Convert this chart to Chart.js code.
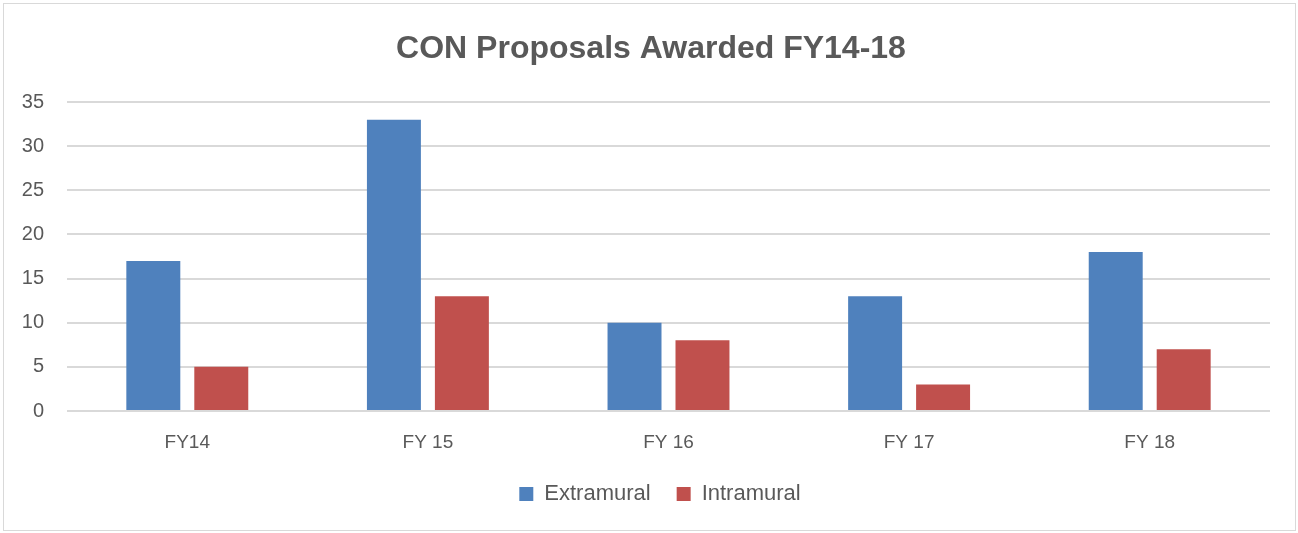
<!DOCTYPE html>
<html>
<head>
<meta charset="utf-8">
<script src="https://cdn.jsdelivr.net/npm/chart.js@4/dist/chart.umd.min.js"></script>
<style>
  html, body { margin: 0; padding: 0; background: #ffffff; }
  #wrap { position: relative; width: 1298px; height: 533px; }
  #frame { position: absolute; left: 3px; top: 3px; width: 1293px; height: 528px; border: 1px solid #d9d9d9; box-sizing: border-box; pointer-events: none; }
  canvas { position: absolute; left: 0; top: 0; }
</style>
</head>
<body>
<div id="wrap">
  <canvas id="c" width="1298" height="533"></canvas>
  <div id="frame"></div>
</div>
<script>
const categories = ["FY14", "FY 15", "FY 16", "FY 17", "FY 18"];
const extramural = [17, 33, 10, 13, 18];
const intramural = [5, 13, 8, 3, 7];
const seriesNames = ["Extramural", "Intramural"];
const yTicks = [0, 5, 10, 15, 20, 25, 30, 35];
const titleText = "CON Proposals Awarded FY14-18";

const textColor = "#595959";
const fontFamily = "'Liberation Sans', Arial, sans-serif";

// Center title and legend on the whole frame rather than the padded box
const recenter = {
  id: "recenter",
  afterLayout(chart) {
    const t = chart.titleBlock;
    if (t) { t.left = 4; t.right = 1298; t.width = t.right - t.left; }
    const l = chart.legend;
    if (l) { l.left = 0; l.right = 1320; l.width = l.right - l.left; }
  }
};

new Chart(document.getElementById("c"), {
  type: "bar",
  data: {
    labels: categories,
    datasets: [
      { label: seriesNames[0], data: extramural, backgroundColor: "#4F81BD", borderWidth: 0 },
      { label: seriesNames[1], data: intramural, backgroundColor: "#C0504D", borderWidth: 0 }
    ]
  },
  plugins: [recenter],
  options: {
    responsive: false,
    animation: false,
    devicePixelRatio: 1,
    layout: { padding: { left: 0, right: 28, top: 0, bottom: 18 } },
    datasets: { bar: { categoryPercentage: 0.565, barPercentage: 0.794 } },
    plugins: {
      title: {
        display: true,
        text: titleText,
        color: textColor,
        font: { family: fontFamily, size: 32, weight: "bold" },
        padding: { top: 30, bottom: 33.6 }
      },
      legend: {
        position: "bottom",
        labels: {
          color: textColor,
          font: { family: fontFamily, size: 22 },
          boxWidth: 14,
          boxHeight: 14,
          padding: 26
        }
      },
      tooltip: { enabled: false }
    },
    scales: {
      x: {
        grid: { display: false, drawTicks: false },
        border: { display: false },
        ticks: { color: textColor, font: { family: fontFamily, size: 19 }, padding: 20 },
        afterFit: (s) => { s.height = 46; }
      },
      y: {
        min: 0,
        max: 35,
        afterBuildTicks: (s) => { s.ticks = yTicks.map(v => ({ value: v })); },
        grid: { color: "#d9d9d9", lineWidth: 2, drawTicks: false },
        border: { display: false },
        ticks: { color: textColor, font: { family: fontFamily, size: 20 }, padding: 23 },
        afterFit: (s) => { s.width = 67; }
      }
    }
  }
});
</script>
</body>
</html>
